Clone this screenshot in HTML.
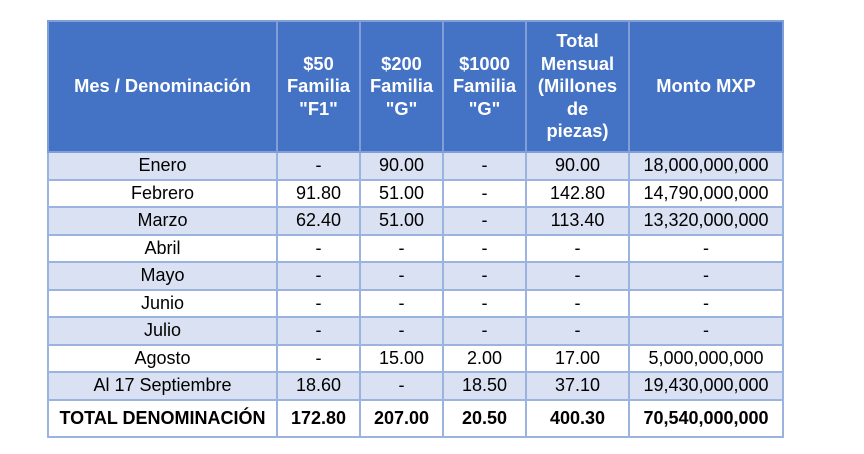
<!DOCTYPE html>
<html><head><meta charset="utf-8"><style>
body{margin:0;width:864px;height:454px;background:#fff;position:relative;overflow:hidden;font-family:"Liberation Sans",Arial,sans-serif;}
table{position:absolute;left:47px;top:20px;border-collapse:collapse;table-layout:fixed;}
td,th{border:2px solid #9bb3df;text-align:center;padding:0;font-size:18px;color:#000;white-space:nowrap;overflow:hidden;}
th{background:#4472c4;color:#fff;font-weight:bold;height:129px;line-height:22.5px;border-color:#7f9fd6;font-size:18.3px;padding:0;}
tr.d td{height:25.5px;line-height:25px;}
tr.a td{background:#d9e1f2;}
tr.t td{font-weight:bold;height:35px;}
</style></head><body>
<table>
<colgroup><col style="width:229px"><col style="width:83px"><col style="width:83px"><col style="width:83px"><col style="width:103px"><col style="width:154px"></colgroup>
<tr><th>Mes / Denominación</th><th>$50<br>Familia<br>"F1"</th><th>$200<br>Familia<br>"G"</th><th>$1000<br>Familia<br>"G"</th><th>Total<br>Mensual<br>(Millones<br>de<br>piezas)</th><th>Monto MXP</th></tr>
<tr class="d a"><td>Enero</td><td>-</td><td>90.00</td><td>-</td><td>90.00</td><td>18,000,000,000</td></tr>
<tr class="d"><td>Febrero</td><td>91.80</td><td>51.00</td><td>-</td><td>142.80</td><td>14,790,000,000</td></tr>
<tr class="d a"><td>Marzo</td><td>62.40</td><td>51.00</td><td>-</td><td>113.40</td><td>13,320,000,000</td></tr>
<tr class="d"><td>Abril</td><td>-</td><td>-</td><td>-</td><td>-</td><td>-</td></tr>
<tr class="d a"><td>Mayo</td><td>-</td><td>-</td><td>-</td><td>-</td><td>-</td></tr>
<tr class="d"><td>Junio</td><td>-</td><td>-</td><td>-</td><td>-</td><td>-</td></tr>
<tr class="d a"><td>Julio</td><td>-</td><td>-</td><td>-</td><td>-</td><td>-</td></tr>
<tr class="d"><td>Agosto</td><td>-</td><td>15.00</td><td>2.00</td><td>17.00</td><td>5,000,000,000</td></tr>
<tr class="d a"><td>Al 17 Septiembre</td><td>18.60</td><td>-</td><td>18.50</td><td>37.10</td><td>19,430,000,000</td></tr>
<tr class="t"><td>TOTAL DENOMINACIÓN</td><td>172.80</td><td>207.00</td><td>20.50</td><td>400.30</td><td>70,540,000,000</td></tr>
</table>
</body></html>
